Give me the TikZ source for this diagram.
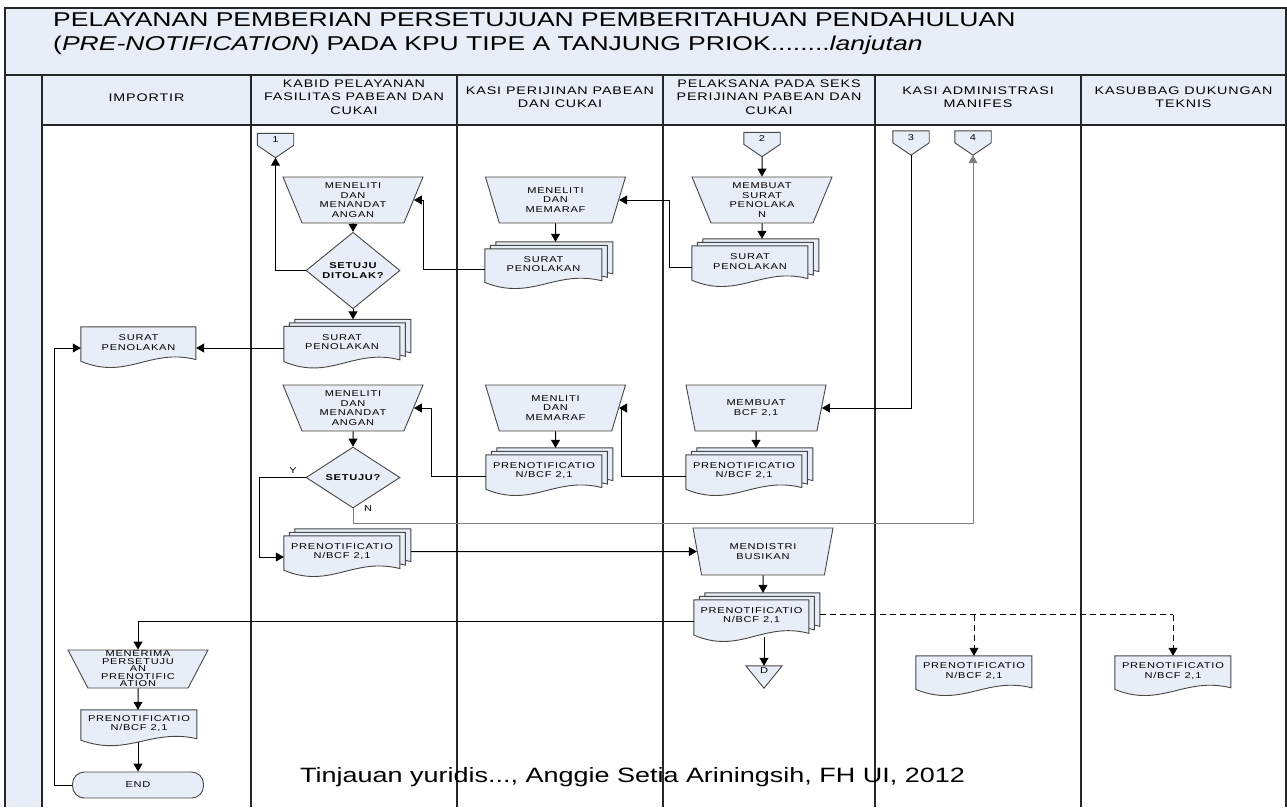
\documentclass[tikz,border=0pt]{standalone}
\usepackage{graphicx}
\usepackage{fontspec}
\setmainfont{Liberation Sans}[FakeStretch=1.3]
\newfontfamily\lblfont{Liberation Sans}[FakeStretch=1.3,LetterSpace=9]
\newfontfamily\hdrfont{Liberation Sans}[FakeStretch=1.3,LetterSpace=8]
\usetikzlibrary{shapes.geometric,arrows.meta,calc}
\definecolor{fillb}{RGB}{232,238,248}
\definecolor{edge}{RGB}{70,70,70}
\tikzset{
  shp/.style={draw=edge, line width=0.9pt, fill=fillb},
  lbl/.style={font=\lblfont\fontsize{8.5}{9.5}\selectfont, align=center, inner sep=0pt},
  box/.style={rectangle, inner sep=0pt, draw=none},
  manop/.style={trapezium, shape border rotate=180, trapezium angle=61, trapezium stretches body=true, minimum width=140pt, minimum height=46pt, inner sep=0pt, shp, lbl},
  decis/.style={diamond, minimum width=94pt, minimum height=52pt, inner sep=0pt, shp, lbl, font=\lblfont\bfseries\fontsize{8.5}{9.5}\selectfont},
  arr/.style={draw=black, line width=1pt, -{Triangle[length=8pt,width=9pt]}},
  arrg/.style={draw=black!50, line width=1pt, -{Triangle[length=8pt,width=9pt]}},
  dsh/.style={draw=black, line width=1pt, dash pattern=on 6pt off 4pt},
  dsharr/.style={draw=black, line width=1pt, dash pattern=on 6pt off 4pt, -{Triangle[length=8pt,width=9pt]}},
  lane/.style={draw=black!85, line width=1.2pt},
  hdr/.style={font=\hdrfont\fontsize{11}{13.5}\selectfont, align=center, inner sep=0pt},
  term/.style={rectangle, rounded corners=12pt, minimum width=131pt, minimum height=26pt, inner sep=0pt, shp, lbl},
  ttl/.style={anchor=west, inner sep=0pt, font=\fontsize{20}{24}\selectfont},
}
% document outline: #1 shift coordinate, #2 width, #3 height
\newcommand{\docpath}[3]{%
  \draw[shp,shift={#1}] (0,0) -- (#2,0) -- (#2,{0.78*#3}) .. controls ({0.6*#2},{0.5*#3}) and ({0.4*#2},{1.28*#3}) .. (0,{0.82*#3}) -- cycle;
}
% single document: name, cx, cy, w, h, text
\newcommand{\singledoc}[6]{%
  \node[box, minimum width=#4pt, minimum height=#5pt] (#1) at (#2,#3) {};
  \docpath{(#1.north west)}{#4}{#5}
  \node[lbl] (#1L) at ($(#1.north)+(0pt,-0.37*#5pt)$) {#6};
}
% multiple documents: name, cx, cy, w, h, text
\newcommand{\multidoc}[6]{%
  \node[box, minimum width=#4pt, minimum height=#5pt] (#1) at (#2,#3) {};
  \docpath{($(#1.north west)+(11pt,7pt)$)}{#4}{#5}
  \docpath{($(#1.north west)+(5.5pt,3.5pt)$)}{#4}{#5}
  \docpath{(#1.north west)}{#4}{#5}
  \node[lbl] (#1L) at ($(#1.north)+(0pt,-0.37*#5pt)$) {#6};
  \coordinate (#1T) at ($(#1.north)+(5.5pt,7pt)$);
  \coordinate (#1R) at ($(#1.east)+(11pt,7pt)$);
}
% off-page connector: name, cx, cy, label
\newcommand{\offpg}[4]{%
  \node[box, minimum width=36pt, minimum height=24pt] (#1) at (#2,#3) {};
  \draw[shp] (#1.north west) -- (#1.north east) -- ($(#1.north east)+(0pt,-12pt)$) -- (#1.south) -- ($(#1.north west)+(0pt,-12pt)$) -- cycle;
  \node[lbl] (#1L) at ($(#1.north)+(0pt,-6.5pt)$) {#4};
}
\begin{document}
\begin{tikzpicture}[x=1pt,y=-1pt]
\useasboundingbox (0,0) rectangle (1287,807);
% frame
\fill[fillb] (5,8) rectangle (1286,125);
\fill[fillb] (5,125) rectangle (42,807);
\draw[lane] (5,807) -- (5,8) -- (1286,8) -- (1286,807);
\draw[lane] (5,75) -- (1286,75);
\draw[lane] (42,125) -- (1286,125);
\foreach \x in {42,251,457,663,875,1081} \draw[lane] (\x,75) -- (\x,807);
% title
\node[ttl] (title1) at (53,20) {\scalebox{1.02}[1]{PELAYANAN PEMBERIAN PERSETUJUAN PEMBERITAHUAN PENDAHULUAN}};
\node[ttl] (title2) at (53,45) {\scalebox{1.02}[1]{(\textit{PRE-NOTIFICATION}) PADA KPU TIPE A TANJUNG PRIOK........\textit{lanjutan}}};
% headers
\node[hdr] (h1) at (146.5,98) {IMPORTIR};
\node[hdr] (h2) at (354,97) {KABID PELAYANAN\\FASILITAS PABEAN DAN\\CUKAI};
\node[hdr] (h3) at (560,97) {KASI PERIJINAN PABEAN\\DAN CUKAI};
\node[hdr] (h4) at (769,97) {PELAKSANA PADA SEKS\\PERIJINAN PABEAN DAN\\CUKAI};
\node[hdr] (h5) at (978,97) {KASI ADMINISTRASI\\MANIFES};
\node[hdr] (h6) at (1183.5,97) {KASUBBAG DUKUNGAN\\TEKNIS};
% KABID lane
\offpg{c1}{275.5}{145.5}{1}
\node[manop] (kt1) at (353,200) {MENELITI\\DAN\\MENANDAT\\ANGAN};
\node[decis] (kd1) at (353,270.5) {SETUJU\\DITOLAK?};
\multidoc{ks}{342}{348}{116}{43}{SURAT\\PENOLAKAN}
\node[manop] (kt2) at (353,408) {MENELITI\\DAN\\MENANDAT\\ANGAN};
\node[decis, minimum height=51pt] (kd2) at (353,477.5) {SETUJU?};
\multidoc{kp}{342}{557}{116}{42}{PRENOTIFICATIO\\N/BCF 2,1}
\node[lbl] (ly) at (293,471) {Y};
\node[lbl] (ln) at (368,509) {N};
% KASI PERIJINAN lane
\node[manop] (st1) at (555.5,200) {MENELITI\\DAN\\MEMARAF};
\multidoc{ss}{543.5}{269.5}{117}{41}{SURAT\\PENOLAKAN}
\node[manop] (st2) at (555.5,408) {MENLITI\\DAN\\MEMARAF};
\multidoc{sp}{544}{476}{116}{42}{PRENOTIFICATIO\\N/BCF 2,1}
% PELAKSANA lane
\offpg{c2}{762}{144.5}{2}
\node[manop] (pt1) at (762,200) {MEMBUAT\\SURAT\\PENOLAKA\\N};
\multidoc{ps}{750}{267}{116}{42}{SURAT\\PENOLAKAN}
\node[manop] (pt2) at (756,408) {MEMBUAT\\BCF 2,1};
\multidoc{pp}{744}{476}{116}{42}{PRENOTIFICATIO\\N/BCF 2,1}
\node[manop, minimum height=47pt] (pm) at (763,551.5) {MENDISTRI\\BUSIKAN};
\multidoc{pf}{751.5}{621.5}{115}{43}{PRENOTIFICATIO\\N/BCF 2,1}
\node[box, minimum width=36pt, minimum height=22pt] (td) at (764,677) {};
\draw[shp] (td.north west) -- (td.north east) -- (td.south) -- cycle;
\node[lbl] (tdL) at ($(td.north)+(0pt,-5pt)$) {D};
% KASI ADMINISTRASI lane
\offpg{c3}{911}{143}{3}
\offpg{c4}{973}{143}{4}
\singledoc{adoc}{974}{676.5}{116}{41}{PRENOTIFICATIO\\N/BCF 2,1}
% KASUBBAG lane
\singledoc{kdoc}{1173}{676.5}{116}{41}{PRENOTIFICATIO\\N/BCF 2,1}
% IMPORTIR lane
\singledoc{isur}{138.5}{348}{115}{42}{SURAT\\PENOLAKAN}
\node[manop, minimum height=38pt, font=\lblfont\fontsize{8.5}{7.5}\selectfont] (imen) at (138,669) {MENERIMA\\PERSETUJU\\AN\\PRENOTIFIC\\ATION};
\singledoc{ipre}{139}{728.5}{116}{37}{PRENOTIFICATIO\\N/BCF 2,1}
\node[term] (iend) at (138,785) {END};
% connectors
\draw[arr] (kd1.west) -| (c1.south);
\draw[arr] (kt1) -- (kd1);
\draw[arr] (kd1.south) -- (kd1.south |- ksT);
\draw[arr] (ss.west) -- ++(-61,0) |- (kt1);
\draw[arr] (st1) -- (st1 |- ssT);
\draw[arr] (ps.west) -- ++(-22,0) |- (st1);
\draw[arr] (c2.south) -- (pt1);
\draw[arr] (pt1) -- (pt1 |- psT);
\draw[arr] (ks.west) -- (isur.east);
\draw[arr] (iend.west) -- ++(-18,0) |- (isur.west);
\draw[arr] (c3.south) |- (pt2);
\draw[arr] (pt2) -- (pt2 |- ppT);
\draw[arr] (pp.west) -- ++(-64,0) |- (st2);
\draw[arr] (st2) -- (st2 |- spT);
\draw[arr] (sp.west) -- ++(-54,0) |- (kt2);
\draw[arr] (kt2) -- (kd2);
\draw[arr] (kd2.west) -- ++(-46,0) |- (kp.west);
\draw[arrg] (kd2.south) -- ++(0,15) -| (c4.south);
\draw[arr] (kpR |- pm) -- (pm);
\draw[arr] (pm) -- (pm |- pfT);
\draw[arr] (pf.west) -| (imen);
\draw[dsh] (pfR) -- (pfR -| kdoc.north);
\draw[dsharr] (pfR -| adoc.north) -- (adoc.north);
\draw[dsharr] (pfR -| kdoc.north) -- (kdoc.north);
\draw[arr] (td.north |- pf.south) ++(0,-6) -- (td.north);
\draw[arr] (imen) -- (imen |- ipre.north);
\draw[arr] (iend |- ipre.south) ++(0,-5) -- (iend);
% footer
\node[anchor=base west, inner sep=0pt, font=\fontsize{20.75}{24}\selectfont] (foot) at (300,782) {Tinjauan yuridis..., Anggie Setia Ariningsih, FH UI, 2012};
\end{tikzpicture}
\end{document}
